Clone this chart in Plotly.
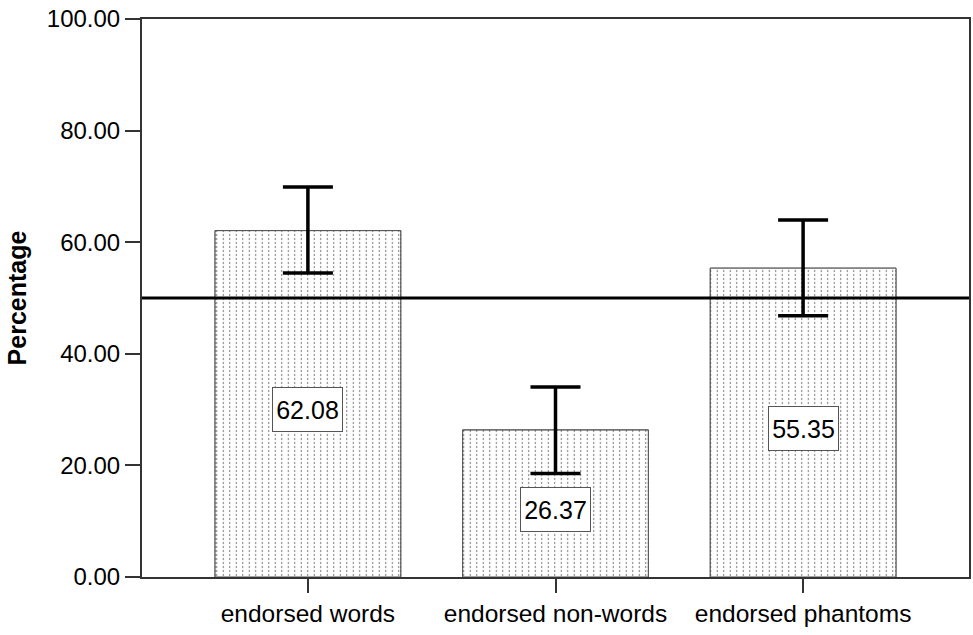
import plotly.graph_objects as go

categories = ["endorsed words", "endorsed non-words", "endorsed phantoms"]
means = [62.08, 26.37, 55.35]
err_plus = [7.8, 7.7, 8.65]
err_minus = [7.6, 7.8, 8.55]
value_labels = ["62.08", "26.37", "55.35"]
reference_value = 50
y_ticks = [0, 20, 40, 60, 80, 100]

FONT = "Liberation Sans, Arial, sans-serif"

fig = go.Figure()

# base bars with vertical gray lines
fig.add_trace(go.Bar(
    x=categories, y=means, width=0.75,
    marker=dict(color="white", line=dict(color="#555555", width=1),
                pattern=dict(shape="|", fgcolor="#808080", bgcolor="white",
                             size=6.5, solidity=0.16, fillmode="replace")),
    showlegend=False, hoverinfo="skip",
))
# overlay that cuts vertical lines into dashes + error bars
fig.add_trace(go.Bar(
    x=categories, y=means, width=0.75,
    marker=dict(color="rgba(0,0,0,0)", line=dict(color="#555555", width=1),
                pattern=dict(shape="-", fgcolor="white", bgcolor="rgba(0,0,0,0)",
                             size=4, solidity=0.45, fillmode="replace")),
    error_y=dict(type="data", symmetric=False, array=err_plus, arrayminus=err_minus,
                 color="black", thickness=3.5, width=25),
    showlegend=False, hoverinfo="skip",
))

fig.add_shape(type="line", xref="paper", x0=0, x1=1, yref="y", y0=reference_value,
              y1=reference_value, line=dict(color="black", width=3), layer="above")

for c, m, t in zip(categories, means, value_labels):
    fig.add_annotation(x=c, y=m / 2, text=t, showarrow=False, yshift=-6,
                       font=dict(family=FONT, size=25, color="black"),
                       bgcolor="white", bordercolor="#555555", borderwidth=1,
                       width=67, height=41)

fig.update_layout(
    width=973, height=635,
    margin=dict(l=142, r=2, t=19, b=58),
    paper_bgcolor="white", plot_bgcolor="white",
    barmode="overlay",
    font=dict(family=FONT, size=24, color="black"),
)
fig.update_xaxes(
    range=[-0.67, 2.67], showgrid=False, zeroline=False,
    showline=True, linecolor="#333333", linewidth=2, mirror=True,
    ticks="outside", ticklen=14, tickwidth=1.5, tickcolor="#333333",
    tickfont=dict(family=FONT, size=24.5),
)
fig.update_yaxes(
    range=[0, 100], tickvals=y_ticks, tickformat=".2f", showgrid=False, zeroline=False,
    showline=True, linecolor="#333333", linewidth=2, mirror=True,
    ticks="outside", ticklen=15, tickwidth=1.5, tickcolor="#333333",
    tickfont=dict(family=FONT, size=24), ticklabeloverflow="allow",
    title=dict(text="<b>Percentage</b>", font=dict(family=FONT, size=25), standoff=13),
)

# remove the default 8px page margin so the figure sits at the window origin
fig.write_html("out.html", config={"displayModeBar": False},
               post_script="document.body.style.margin='0';")
